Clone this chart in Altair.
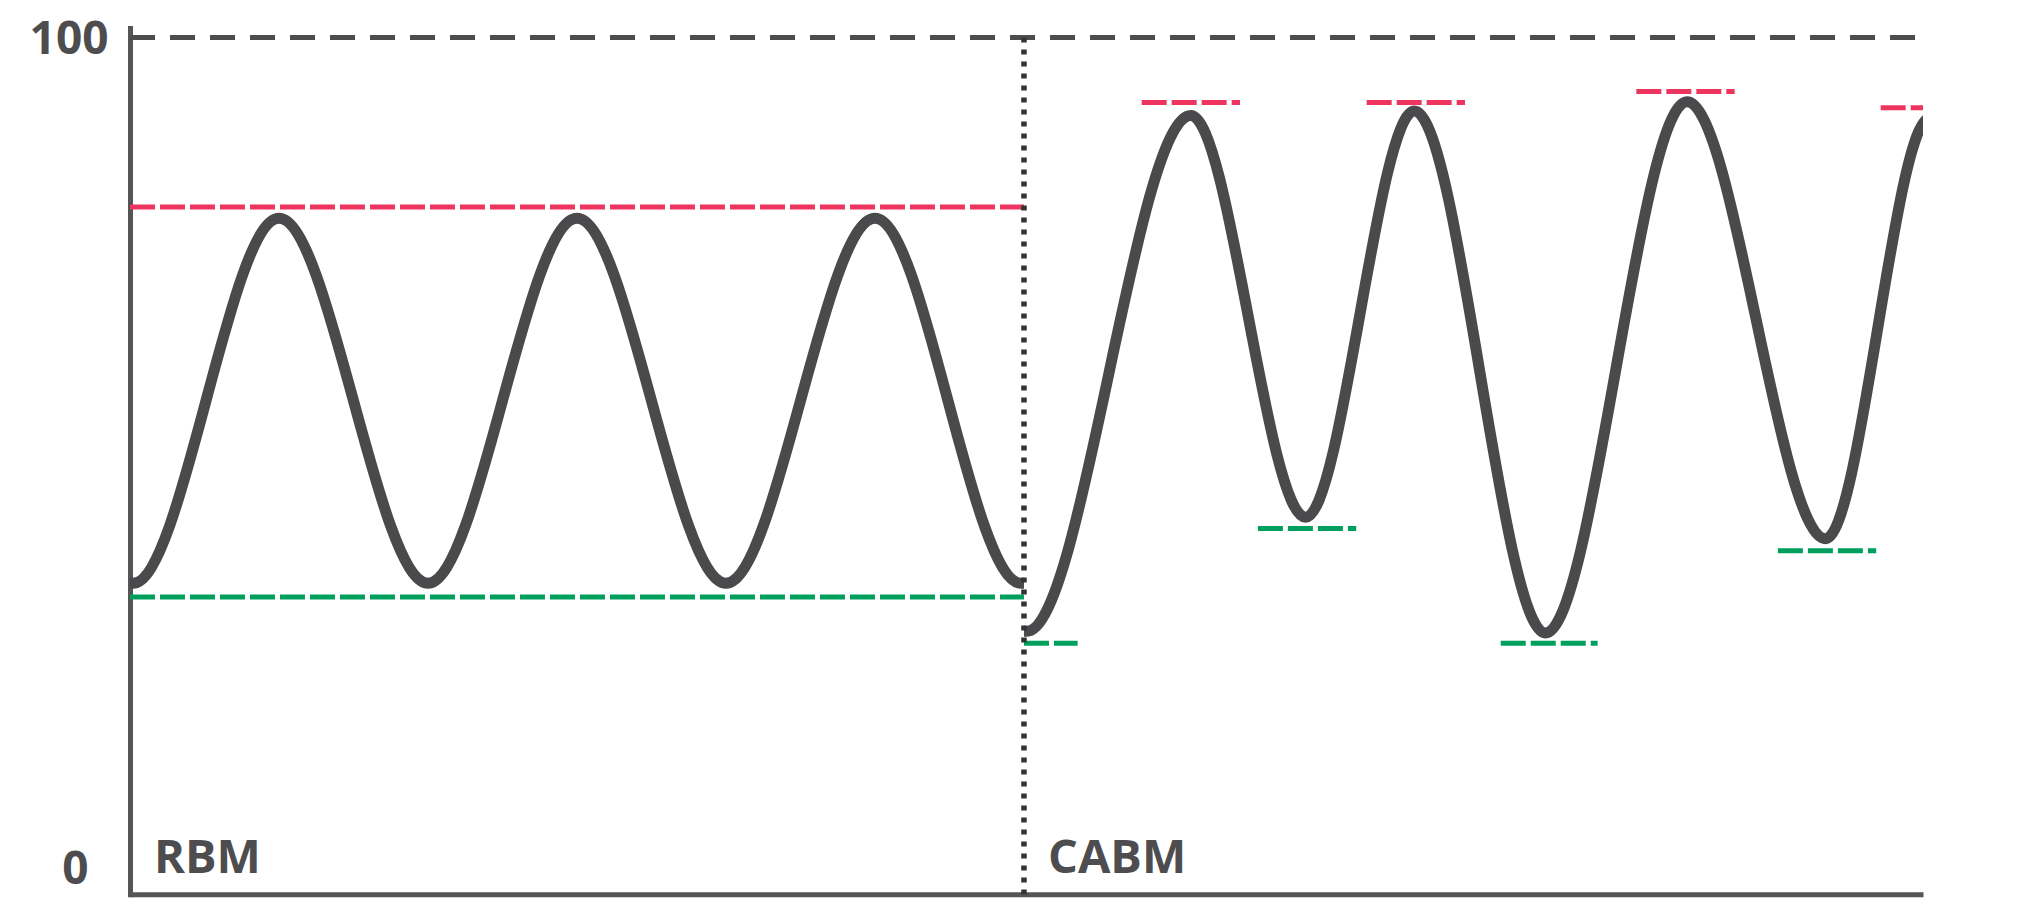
import altair as alt
import pandas as pd

# ---- data ----
# x in arbitrary time units (one unit = half an RBM cycle), y in % (0-100)
rbm_x = [0.0, 0.02, 1.0, 2.0, 3.0, 4.0, 5.0, 5.98, 6.0]
rbm_y = [36.3, 36.3, 78.9, 36.3, 78.9, 36.3, 78.9, 36.3, 36.3]

cabm_x = [6.0, 6.02, 7.12, 7.89, 8.62, 9.50, 10.45, 11.38, 12.08, 12.12]
cabm_y = [30.7, 30.7, 90.9, 44.0, 91.4, 30.5, 92.5, 41.5, 90.6, 90.6]

thr_x = [0.0, 0.0, 6.0, 6.79, 7.57, 8.30, 9.20, 10.11, 11.06, 11.75]
thr_x2 = [6.0, 6.0, 6.36, 7.45, 8.23, 8.96, 9.85, 10.77, 11.72, 12.41]
thr_y = [80.2, 34.7, 29.3, 92.4, 42.7, 92.4, 29.3, 93.7, 40.1, 91.8]
thr_kind = ["high", "low", "low", "high", "low", "high", "low", "high", "low", "high"]

seg_names = ["RBM", "CABM"]
seg_start = [0.0, 6.0]

y_ticks = [0, 100]
top_value = 100
x_max = 12.034
y_max = 101.1

# ---- styles ----
DARK = "#4a4a4c"
AXIS = "#555557"
RED = "#ee3560"
GREEN = "#009f5e"
TEXT = "#4d4d4f"
FONT = "Open Sans"

curve_df = pd.DataFrame(
    {"x": rbm_x + cabm_x,
     "y": rbm_y + cabm_y,
     "series": ["RBM"] * len(rbm_x) + ["CABM"] * len(cabm_x)}
)
thr_df = pd.DataFrame({"x": thr_x, "x2": thr_x2, "y": thr_y, "kind": thr_kind})
lab_df = pd.DataFrame({"x": seg_start, "name": seg_names, "y": [0, 0]})
top_df = pd.DataFrame({"x": [0.0], "x2": [x_max], "y": [top_value]})
div_df = pd.DataFrame({"x": [seg_start[1]], "y": [top_value], "y2": [0]})

xscale = alt.Scale(domain=[0, x_max], nice=False, zero=False)
yscale = alt.Scale(domain=[0, y_max], nice=False)

x_axis = alt.Axis(labels=False, ticks=False, grid=False, title=None,
                  domainColor=AXIS, domainWidth=5)
y_axis = alt.Axis(values=y_ticks, ticks=False, grid=False, title=None,
                  domainColor=AXIS, domainWidth=5, domainCap="square",
                  labelFont=FONT, labelFontSize=46, labelFontWeight="bold",
                  labelColor=TEXT, labelAlign="right", labelBaseline="middle",
                  labelFlush=False, labelBound=False,
                  labelPadding={"condition": {"test": "datum.value == 0", "value": 42}, "value": 22},
                  labelOffset={"condition": {"test": "datum.value == 0", "value": -25}, "value": 2})

base_x = alt.X("x:Q", scale=xscale, axis=x_axis)
base_y = alt.Y("y:Q", scale=yscale, axis=y_axis)

top_line = alt.Chart(top_df).mark_rule(
    color=TEXT, strokeWidth=5, strokeDash=[25, 15], strokeCap="butt"
).encode(x=base_x, x2="x2:Q", y=base_y)

thresholds = alt.Chart(thr_df).mark_rule(
    strokeWidth=5, strokeDash=[25, 5], strokeCap="butt", clip=True
).encode(
    x=base_x, x2="x2:Q", y=base_y,
    color=alt.Color("kind:N", scale=alt.Scale(domain=["high", "low"], range=[RED, GREEN]), legend=None),
)

curves = alt.Chart(curve_df).mark_line(
    interpolate="monotone", strokeWidth=11, color=DARK, clip=True, strokeCap="butt"
).encode(x=base_x, y=base_y, detail="series:N", order="x:Q")

divider = alt.Chart(div_df).mark_rule(
    color="#333333", strokeWidth=5.5, strokeDash=[5, 7], strokeCap="butt"
).encode(x=base_x, y=base_y, y2="y2:Q")

labels = alt.Chart(lab_df).mark_text(
    align="left", baseline="alphabetic", dx=24, dy=-21,
    font=FONT, fontSize=47, fontWeight="bold", color=TEXT
).encode(x=base_x, y=base_y, text="name:N")

chart = alt.layer(top_line, thresholds, curves, divider, labels).properties(
    width=1793, height=866.3,
    autosize=alt.AutoSizeParams(type="none"),
    padding={"left": 122, "top": 20, "right": 10, "bottom": 5},
    background="white",
).configure_view(stroke=None)

chart.save("out.html", embed_options={"renderer": "svg", "actions": False})
